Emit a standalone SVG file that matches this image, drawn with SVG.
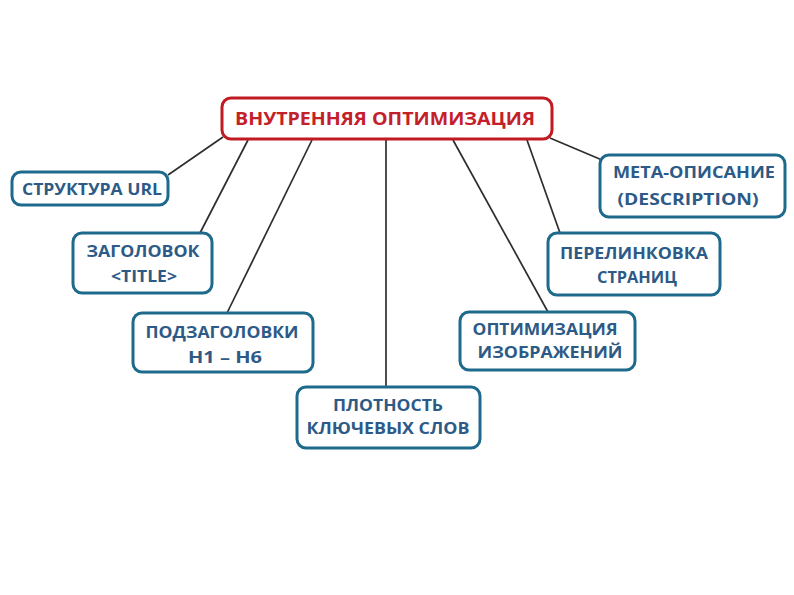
<svg xmlns="http://www.w3.org/2000/svg" width="794" height="595" viewBox="0 0 794 595">
<style>
.bg{fill:#ffffff}
.node rect{fill:#ffffff;stroke:#1e6a8c;stroke-width:3}
.node text{fill:#2d5a86;font-family:"Open Sans","Liberation Sans",sans-serif;font-weight:bold;font-size:16.5px;text-anchor:middle}
#root rect{stroke:#c01a22;stroke-width:3}
#root text{fill:#c4202a;font-size:17.5px}
.conn line{stroke:#2e2e2e;stroke-width:1.7}
</style>
<rect class="bg" x="0" y="0" width="794" height="595"/>
<g class="conn">
<line x1="223" y1="137" x2="168" y2="175"/>
<line x1="248" y1="140" x2="200" y2="233"/>
<line x1="312" y1="140" x2="227" y2="313"/>
<line x1="386" y1="140" x2="386" y2="387"/>
<line x1="453" y1="140" x2="548" y2="312"/>
<line x1="527" y1="140" x2="560" y2="233"/>
<line x1="550" y1="138" x2="602" y2="160"/>
</g>
<g id="root" class="node">
<rect x="222" y="98" width="330" height="41" rx="9"/>
<text x="385" y="125" textLength="300" lengthAdjust="spacingAndGlyphs">ВНУТРЕННЯЯ ОПТИМИЗАЦИЯ</text>
</g>
<g id="n-url" class="node">
<rect x="12" y="172" width="156" height="33" rx="9"/>
<text x="92" y="195" textLength="140" lengthAdjust="spacingAndGlyphs">СТРУКТУРА URL</text>
</g>
<g id="n-title" class="node">
<rect x="73" y="233" width="139" height="60" rx="9"/>
<text x="143" y="257" textLength="113" lengthAdjust="spacingAndGlyphs">ЗАГОЛОВОК</text>
<text x="144" y="282" textLength="66" lengthAdjust="spacingAndGlyphs">&lt;TITLE&gt;</text>
</g>
<g id="n-h" class="node">
<rect x="133" y="313" width="180" height="59" rx="9"/>
<text x="222" y="338" textLength="153" lengthAdjust="spacingAndGlyphs">ПОДЗАГОЛОВКИ</text>
<text x="225" y="363" textLength="74" lengthAdjust="spacingAndGlyphs">Н1 – Н6</text>
</g>
<g id="n-density" class="node">
<rect x="297" y="387" width="183" height="61" rx="9"/>
<text x="388" y="411" textLength="110" lengthAdjust="spacingAndGlyphs">ПЛОТНОСТЬ</text>
<text x="388" y="434" textLength="163" lengthAdjust="spacingAndGlyphs">КЛЮЧЕВЫХ СЛОВ</text>
</g>
<g id="n-img" class="node">
<rect x="460" y="312" width="175" height="58" rx="9"/>
<text x="545" y="335" textLength="145" lengthAdjust="spacingAndGlyphs">ОПТИМИЗАЦИЯ</text>
<text x="550" y="358" textLength="145" lengthAdjust="spacingAndGlyphs">ИЗОБРАЖЕНИЙ</text>
</g>
<g id="n-links" class="node">
<rect x="548" y="233" width="172" height="62" rx="9"/>
<text x="634" y="259" textLength="148" lengthAdjust="spacingAndGlyphs">ПЕРЕЛИНКОВКА</text>
<text x="637" y="283" textLength="80" lengthAdjust="spacingAndGlyphs">СТРАНИЦ</text>
</g>
<g id="n-meta" class="node">
<rect x="600" y="155" width="185" height="62" rx="9"/>
<text x="694" y="178" textLength="162" lengthAdjust="spacingAndGlyphs">МЕТА-ОПИСАНИЕ</text>
<text x="688" y="205" textLength="141" lengthAdjust="spacingAndGlyphs">(DESCRIPTION)</text>
</g>
</svg>
